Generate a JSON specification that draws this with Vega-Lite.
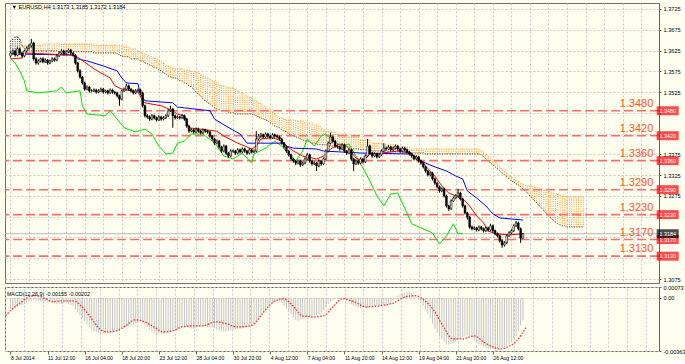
{
"$schema":"https://vega.github.io/schema/vega-lite/v6.json",
"background":"#fffff0",
"padding":{"left":2,"top":2,"right":0,"bottom":0},
"spacing":0,
"config":{"view":{"stroke":"#6e6e6e","fill":"#fffff0"},"axis":{"labelFont":"Liberation Sans","labelFontSize":5.6,"labelColor":"#000","labelOverlap":false,"gridColor":"#c8c8c8","gridDash":[2,2],"gridWidth":1,"tickColor":"#666","domainColor":"#666"},"text":{"font":"Liberation Sans"}},
"datasets":{
"bars":[
{"i":0,"o":1.3612,"h":1.3623,"l":1.3608,"c":1.3619,"m":-0.00075},
{"i":1,"o":1.3619,"h":1.3628,"l":1.3615,"c":1.3624,"m":-0.0008},
{"i":2,"o":1.3624,"h":1.3627,"l":1.3610,"c":1.3614,"m":-0.00072},
{"i":3,"o":1.3614,"h":1.3633,"l":1.3611,"c":1.3629,"m":-0.00062},
{"i":4,"o":1.3629,"h":1.3632,"l":1.3615,"c":1.3619,"m":-0.00055},
{"i":5,"o":1.3619,"h":1.3622,"l":1.3608,"c":1.3612,"m":-0.0005},
{"i":6,"o":1.3612,"h":1.3627,"l":1.3609,"c":1.3624,"m":-0.00045},
{"i":7,"o":1.3624,"h":1.3635,"l":1.3620,"c":1.3631,"m":-0.00035},
{"i":8,"o":1.3631,"h":1.3641,"l":1.3627,"c":1.3636,"m":-0.00025},
{"i":9,"o":1.3636,"h":1.3653,"l":1.3632,"c":1.3643,"m":-0.0002},
{"i":10,"o":1.3643,"h":1.3646,"l":1.3601,"c":1.3605,"m":-0.00018},
{"i":11,"o":1.3605,"h":1.3609,"l":1.3591,"c":1.3595,"m":-0.0002},
{"i":12,"o":1.3595,"h":1.3604,"l":1.3591,"c":1.3600,"m":-0.00022},
{"i":13,"o":1.3600,"h":1.3608,"l":1.3596,"c":1.3605,"m":-0.00024},
{"i":14,"o":1.3605,"h":1.3609,"l":1.3594,"c":1.3598,"m":-0.00025},
{"i":15,"o":1.3598,"h":1.3606,"l":1.3595,"c":1.3602,"m":-0.00027},
{"i":16,"o":1.3602,"h":1.3605,"l":1.3591,"c":1.3595,"m":-0.00028},
{"i":17,"o":1.3595,"h":1.3603,"l":1.3592,"c":1.3600,"m":-0.0003},
{"i":18,"o":1.3600,"h":1.3609,"l":1.3597,"c":1.3605,"m":-0.00035},
{"i":19,"o":1.3605,"h":1.3608,"l":1.3598,"c":1.3602,"m":-0.0004},
{"i":20,"o":1.3602,"h":1.3616,"l":1.3599,"c":1.3612,"m":-0.00042},
{"i":21,"o":1.3612,"h":1.3623,"l":1.3609,"c":1.3619,"m":-0.00045},
{"i":22,"o":1.3619,"h":1.3628,"l":1.3616,"c":1.3624,"m":-0.00042},
{"i":23,"o":1.3624,"h":1.3627,"l":1.3613,"c":1.3617,"m":-0.0004},
{"i":24,"o":1.3617,"h":1.3626,"l":1.3614,"c":1.3622,"m":-0.00038},
{"i":25,"o":1.3622,"h":1.3630,"l":1.3618,"c":1.3626,"m":-0.00042},
{"i":26,"o":1.3626,"h":1.3629,"l":1.3615,"c":1.3619,"m":-0.00048},
{"i":27,"o":1.3619,"h":1.3622,"l":1.3610,"c":1.3614,"m":-0.00055},
{"i":28,"o":1.3614,"h":1.3617,"l":1.3591,"c":1.3595,"m":-0.0008},
{"i":29,"o":1.3595,"h":1.3598,"l":1.3572,"c":1.3576,"m":-0.001},
{"i":30,"o":1.3576,"h":1.3580,"l":1.3557,"c":1.3561,"m":-0.0012},
{"i":31,"o":1.3561,"h":1.3564,"l":1.3543,"c":1.3547,"m":-0.0014},
{"i":32,"o":1.3547,"h":1.3550,"l":1.3528,"c":1.3532,"m":-0.0016},
{"i":33,"o":1.3532,"h":1.3541,"l":1.3529,"c":1.3537,"m":-0.0018},
{"i":34,"o":1.3537,"h":1.3540,"l":1.3524,"c":1.3528,"m":-0.002},
{"i":35,"o":1.3528,"h":1.3532,"l":1.3524,"c":1.3528,"m":-0.00215},
{"i":36,"o":1.3528,"h":1.3534,"l":1.3525,"c":1.3530,"m":-0.00225},
{"i":37,"o":1.3530,"h":1.3533,"l":1.3521,"c":1.3525,"m":-0.00235},
{"i":38,"o":1.3525,"h":1.3532,"l":1.3522,"c":1.3528,"m":-0.0024},
{"i":39,"o":1.3528,"h":1.3536,"l":1.3525,"c":1.3532,"m":-0.00245},
{"i":40,"o":1.3532,"h":1.3535,"l":1.3521,"c":1.3525,"m":-0.00245},
{"i":41,"o":1.3525,"h":1.3531,"l":1.3522,"c":1.3528,"m":-0.00242},
{"i":42,"o":1.3528,"h":1.3531,"l":1.3519,"c":1.3523,"m":-0.0024},
{"i":43,"o":1.3523,"h":1.3534,"l":1.3520,"c":1.3530,"m":-0.00238},
{"i":44,"o":1.3530,"h":1.3533,"l":1.3521,"c":1.3525,"m":-0.00232},
{"i":45,"o":1.3525,"h":1.3528,"l":1.3519,"c":1.3523,"m":-0.00228},
{"i":46,"o":1.3523,"h":1.3526,"l":1.3512,"c":1.3516,"m":-0.00222},
{"i":47,"o":1.3516,"h":1.3519,"l":1.3492,"c":1.3508,"m":-0.00215},
{"i":48,"o":1.3508,"h":1.3531,"l":1.3505,"c":1.3528,"m":-0.0021},
{"i":49,"o":1.3528,"h":1.3536,"l":1.3525,"c":1.3532,"m":-0.00205},
{"i":50,"o":1.3532,"h":1.3545,"l":1.3529,"c":1.3540,"m":-0.002},
{"i":51,"o":1.3540,"h":1.3543,"l":1.3528,"c":1.3532,"m":-0.00195},
{"i":52,"o":1.3532,"h":1.3535,"l":1.3524,"c":1.3528,"m":-0.0019},
{"i":53,"o":1.3528,"h":1.3531,"l":1.3519,"c":1.3523,"m":-0.00185},
{"i":54,"o":1.3523,"h":1.3532,"l":1.3520,"c":1.3528,"m":-0.00175},
{"i":55,"o":1.3528,"h":1.3534,"l":1.3525,"c":1.3530,"m":-0.00165},
{"i":56,"o":1.3530,"h":1.3533,"l":1.3519,"c":1.3523,"m":-0.0016},
{"i":57,"o":1.3523,"h":1.3526,"l":1.3488,"c":1.3492,"m":-0.0017},
{"i":58,"o":1.3492,"h":1.3495,"l":1.3464,"c":1.3468,"m":-0.00185},
{"i":59,"o":1.3468,"h":1.3472,"l":1.3461,"c":1.3465,"m":-0.002},
{"i":60,"o":1.3465,"h":1.3469,"l":1.3456,"c":1.3460,"m":-0.00215},
{"i":61,"o":1.3460,"h":1.3472,"l":1.3457,"c":1.3468,"m":-0.00228},
{"i":62,"o":1.3468,"h":1.3471,"l":1.3459,"c":1.3463,"m":-0.00238},
{"i":63,"o":1.3463,"h":1.3466,"l":1.3454,"c":1.3458,"m":-0.00245},
{"i":64,"o":1.3458,"h":1.3469,"l":1.3455,"c":1.3465,"m":-0.00248},
{"i":65,"o":1.3465,"h":1.3468,"l":1.3456,"c":1.3460,"m":-0.00248},
{"i":66,"o":1.3460,"h":1.3467,"l":1.3457,"c":1.3463,"m":-0.00246},
{"i":67,"o":1.3463,"h":1.3472,"l":1.3460,"c":1.3468,"m":-0.00243},
{"i":68,"o":1.3468,"h":1.3484,"l":1.3465,"c":1.3480,"m":-0.00238},
{"i":69,"o":1.3480,"h":1.3492,"l":1.3477,"c":1.3484,"m":-0.00232},
{"i":70,"o":1.3484,"h":1.3487,"l":1.3439,"c":1.3468,"m":-0.00225},
{"i":71,"o":1.3468,"h":1.3471,"l":1.3459,"c":1.3463,"m":-0.00218},
{"i":72,"o":1.3463,"h":1.3469,"l":1.3460,"c":1.3465,"m":-0.00212},
{"i":73,"o":1.3465,"h":1.3468,"l":1.3459,"c":1.3463,"m":-0.00205},
{"i":74,"o":1.3463,"h":1.3472,"l":1.3460,"c":1.3468,"m":-0.002},
{"i":75,"o":1.3468,"h":1.3471,"l":1.3456,"c":1.3460,"m":-0.00198},
{"i":76,"o":1.3460,"h":1.3463,"l":1.3439,"c":1.3443,"m":-0.002},
{"i":77,"o":1.3443,"h":1.3446,"l":1.3427,"c":1.3431,"m":-0.00205},
{"i":78,"o":1.3431,"h":1.3438,"l":1.3428,"c":1.3434,"m":-0.0021},
{"i":79,"o":1.3434,"h":1.3437,"l":1.3425,"c":1.3429,"m":-0.00212},
{"i":80,"o":1.3429,"h":1.3440,"l":1.3426,"c":1.3436,"m":-0.00208},
{"i":81,"o":1.3436,"h":1.3439,"l":1.3427,"c":1.3431,"m":-0.002},
{"i":82,"o":1.3431,"h":1.3434,"l":1.3423,"c":1.3427,"m":-0.00195},
{"i":83,"o":1.3427,"h":1.3438,"l":1.3424,"c":1.3434,"m":-0.00192},
{"i":84,"o":1.3434,"h":1.3437,"l":1.3427,"c":1.3431,"m":-0.00195},
{"i":85,"o":1.3431,"h":1.3434,"l":1.3425,"c":1.3429,"m":-0.00198},
{"i":86,"o":1.3429,"h":1.3432,"l":1.3415,"c":1.3419,"m":-0.002},
{"i":87,"o":1.3419,"h":1.3422,"l":1.3408,"c":1.3412,"m":-0.00205},
{"i":88,"o":1.3412,"h":1.3415,"l":1.3398,"c":1.3402,"m":-0.00212},
{"i":89,"o":1.3402,"h":1.3411,"l":1.3399,"c":1.3407,"m":-0.00218},
{"i":90,"o":1.3407,"h":1.3410,"l":1.3389,"c":1.3393,"m":-0.00225},
{"i":91,"o":1.3393,"h":1.3396,"l":1.3379,"c":1.3383,"m":-0.0023},
{"i":92,"o":1.3383,"h":1.3399,"l":1.3380,"c":1.3395,"m":-0.00232},
{"i":93,"o":1.3395,"h":1.3398,"l":1.3374,"c":1.3378,"m":-0.0023},
{"i":94,"o":1.3378,"h":1.3381,"l":1.3366,"c":1.3371,"m":-0.00226},
{"i":95,"o":1.3371,"h":1.3387,"l":1.3368,"c":1.3383,"m":-0.00222},
{"i":96,"o":1.3383,"h":1.3387,"l":1.3379,"c":1.3383,"m":-0.0022},
{"i":97,"o":1.3383,"h":1.3386,"l":1.3374,"c":1.3378,"m":-0.00218},
{"i":98,"o":1.3378,"h":1.3390,"l":1.3375,"c":1.3386,"m":-0.00215},
{"i":99,"o":1.3386,"h":1.3389,"l":1.3377,"c":1.3381,"m":-0.00212},
{"i":100,"o":1.3381,"h":1.3392,"l":1.3378,"c":1.3388,"m":-0.00208},
{"i":101,"o":1.3388,"h":1.3391,"l":1.3379,"c":1.3383,"m":-0.00205},
{"i":102,"o":1.3383,"h":1.3386,"l":1.3374,"c":1.3378,"m":-0.002},
{"i":103,"o":1.3378,"h":1.3390,"l":1.3375,"c":1.3386,"m":-0.00195},
{"i":104,"o":1.3386,"h":1.3389,"l":1.3377,"c":1.3381,"m":-0.0019},
{"i":105,"o":1.3381,"h":1.3387,"l":1.3378,"c":1.3383,"m":-0.0018},
{"i":106,"o":1.3383,"h":1.3431,"l":1.3380,"c":1.3412,"m":-0.0016},
{"i":107,"o":1.3412,"h":1.3424,"l":1.3408,"c":1.3419,"m":-0.0014},
{"i":108,"o":1.3419,"h":1.3427,"l":1.3415,"c":1.3422,"m":-0.0012},
{"i":109,"o":1.3422,"h":1.3425,"l":1.3413,"c":1.3417,"m":-0.001},
{"i":110,"o":1.3417,"h":1.3428,"l":1.3414,"c":1.3424,"m":-0.0008},
{"i":111,"o":1.3424,"h":1.3427,"l":1.3415,"c":1.3419,"m":-0.00055},
{"i":112,"o":1.3419,"h":1.3422,"l":1.3411,"c":1.3415,"m":-0.0004},
{"i":113,"o":1.3415,"h":1.3426,"l":1.3412,"c":1.3422,"m":-0.0003},
{"i":114,"o":1.3422,"h":1.3425,"l":1.3415,"c":1.3419,"m":-0.00025},
{"i":115,"o":1.3419,"h":1.3423,"l":1.3413,"c":1.3417,"m":-0.00022},
{"i":116,"o":1.3417,"h":1.3420,"l":1.3408,"c":1.3412,"m":-0.00025},
{"i":117,"o":1.3412,"h":1.3415,"l":1.3398,"c":1.3402,"m":-0.00035},
{"i":118,"o":1.3402,"h":1.3405,"l":1.3389,"c":1.3393,"m":-0.00055},
{"i":119,"o":1.3393,"h":1.3396,"l":1.3379,"c":1.3383,"m":-0.00075},
{"i":120,"o":1.3383,"h":1.3386,"l":1.3370,"c":1.3374,"m":-0.00095},
{"i":121,"o":1.3374,"h":1.3377,"l":1.3360,"c":1.3364,"m":-0.00115},
{"i":122,"o":1.3364,"h":1.3367,"l":1.3355,"c":1.3359,"m":-0.00135},
{"i":123,"o":1.3359,"h":1.3362,"l":1.3349,"c":1.3354,"m":-0.0015},
{"i":124,"o":1.3354,"h":1.3363,"l":1.3351,"c":1.3359,"m":-0.00158},
{"i":125,"o":1.3359,"h":1.3362,"l":1.3345,"c":1.3350,"m":-0.0015},
{"i":126,"o":1.3350,"h":1.3358,"l":1.3347,"c":1.3354,"m":-0.00145},
{"i":127,"o":1.3354,"h":1.3368,"l":1.3351,"c":1.3364,"m":-0.0014},
{"i":128,"o":1.3364,"h":1.3378,"l":1.3361,"c":1.3374,"m":-0.00135},
{"i":129,"o":1.3374,"h":1.3377,"l":1.3355,"c":1.3359,"m":-0.0013},
{"i":130,"o":1.3359,"h":1.3362,"l":1.3348,"c":1.3352,"m":-0.00125},
{"i":131,"o":1.3352,"h":1.3358,"l":1.3349,"c":1.3354,"m":-0.00122},
{"i":132,"o":1.3354,"h":1.3357,"l":1.3335,"c":1.3347,"m":-0.0012},
{"i":133,"o":1.3347,"h":1.3363,"l":1.3344,"c":1.3359,"m":-0.00115},
{"i":134,"o":1.3359,"h":1.3362,"l":1.3348,"c":1.3352,"m":-0.001},
{"i":135,"o":1.3352,"h":1.3368,"l":1.3349,"c":1.3364,"m":-0.00085},
{"i":136,"o":1.3364,"h":1.3387,"l":1.3361,"c":1.3383,"m":-0.00065},
{"i":137,"o":1.3383,"h":1.3406,"l":1.3380,"c":1.3402,"m":-0.00045},
{"i":138,"o":1.3402,"h":1.3427,"l":1.3399,"c":1.3417,"m":-0.0003},
{"i":139,"o":1.3417,"h":1.3420,"l":1.3403,"c":1.3407,"m":-0.0002},
{"i":140,"o":1.3407,"h":1.3410,"l":1.3391,"c":1.3395,"m":-0.0001},
{"i":141,"o":1.3395,"h":1.3399,"l":1.3389,"c":1.3393,"m":-0.00005},
{"i":142,"o":1.3393,"h":1.3396,"l":1.3384,"c":1.3388,"m":0},
{"i":143,"o":1.3388,"h":1.3402,"l":1.3385,"c":1.3398,"m":-0.00005},
{"i":144,"o":1.3398,"h":1.3401,"l":1.3379,"c":1.3383,"m":-0.0001},
{"i":145,"o":1.3383,"h":1.3386,"l":1.3374,"c":1.3378,"m":-0.0002},
{"i":146,"o":1.3378,"h":1.3390,"l":1.3375,"c":1.3386,"m":-0.0003},
{"i":147,"o":1.3386,"h":1.3389,"l":1.3360,"c":1.3364,"m":-0.00045},
{"i":148,"o":1.3364,"h":1.3367,"l":1.3335,"c":1.3352,"m":-0.00055},
{"i":149,"o":1.3352,"h":1.3363,"l":1.3349,"c":1.3359,"m":-0.00062},
{"i":150,"o":1.3359,"h":1.3362,"l":1.3350,"c":1.3354,"m":-0.00068},
{"i":151,"o":1.3354,"h":1.3368,"l":1.3351,"c":1.3364,"m":-0.00072},
{"i":152,"o":1.3364,"h":1.3367,"l":1.3353,"c":1.3357,"m":-0.00072},
{"i":153,"o":1.3357,"h":1.3375,"l":1.3354,"c":1.3371,"m":-0.0007},
{"i":154,"o":1.3371,"h":1.3412,"l":1.3368,"c":1.3395,"m":-0.00065},
{"i":155,"o":1.3395,"h":1.3398,"l":1.3374,"c":1.3378,"m":-0.0006},
{"i":156,"o":1.3378,"h":1.3381,"l":1.3367,"c":1.3371,"m":-0.00058},
{"i":157,"o":1.3371,"h":1.3380,"l":1.3368,"c":1.3376,"m":-0.00055},
{"i":158,"o":1.3376,"h":1.3379,"l":1.3365,"c":1.3369,"m":-0.00055},
{"i":159,"o":1.3369,"h":1.3378,"l":1.3366,"c":1.3374,"m":-0.00052},
{"i":160,"o":1.3374,"h":1.3387,"l":1.3371,"c":1.3383,"m":-0.0005},
{"i":161,"o":1.3383,"h":1.3402,"l":1.3380,"c":1.3390,"m":-0.00048},
{"i":162,"o":1.3390,"h":1.3394,"l":1.3384,"c":1.3388,"m":-0.00045},
{"i":163,"o":1.3388,"h":1.3397,"l":1.3385,"c":1.3393,"m":-0.0004},
{"i":164,"o":1.3393,"h":1.3396,"l":1.3382,"c":1.3386,"m":-0.00035},
{"i":165,"o":1.3386,"h":1.3394,"l":1.3383,"c":1.3390,"m":-0.0002},
{"i":166,"o":1.3390,"h":1.3399,"l":1.3387,"c":1.3395,"m":-0.00005},
{"i":167,"o":1.3395,"h":1.3398,"l":1.3384,"c":1.3388,"m":0.0001},
{"i":168,"o":1.3388,"h":1.3391,"l":1.3379,"c":1.3383,"m":0.0002},
{"i":169,"o":1.3383,"h":1.3394,"l":1.3380,"c":1.3390,"m":0.00028},
{"i":170,"o":1.3390,"h":1.3393,"l":1.3382,"c":1.3386,"m":0.00035},
{"i":171,"o":1.3386,"h":1.3389,"l":1.3377,"c":1.3381,"m":0.00038},
{"i":172,"o":1.3381,"h":1.3384,"l":1.3372,"c":1.3376,"m":0.00035},
{"i":173,"o":1.3376,"h":1.3379,"l":1.3367,"c":1.3371,"m":0.00028},
{"i":174,"o":1.3371,"h":1.3374,"l":1.3360,"c":1.3364,"m":0.00015},
{"i":175,"o":1.3364,"h":1.3373,"l":1.3361,"c":1.3369,"m":0},
{"i":176,"o":1.3369,"h":1.3372,"l":1.3355,"c":1.3359,"m":-0.00015},
{"i":177,"o":1.3359,"h":1.3362,"l":1.3350,"c":1.3354,"m":-0.00035},
{"i":178,"o":1.3354,"h":1.3357,"l":1.3341,"c":1.3345,"m":-0.00055},
{"i":179,"o":1.3345,"h":1.3348,"l":1.3331,"c":1.3335,"m":-0.0008},
{"i":180,"o":1.3335,"h":1.3338,"l":1.3322,"c":1.3326,"m":-0.0011},
{"i":181,"o":1.3326,"h":1.3334,"l":1.3322,"c":1.3330,"m":-0.0014},
{"i":182,"o":1.3330,"h":1.3333,"l":1.3312,"c":1.3316,"m":-0.00175},
{"i":183,"o":1.3316,"h":1.3319,"l":1.3302,"c":1.3306,"m":-0.0021},
{"i":184,"o":1.3306,"h":1.3309,"l":1.3293,"c":1.3297,"m":-0.0024},
{"i":185,"o":1.3297,"h":1.3300,"l":1.3283,"c":1.3287,"m":-0.00265},
{"i":186,"o":1.3287,"h":1.3296,"l":1.3284,"c":1.3292,"m":-0.00285},
{"i":187,"o":1.3292,"h":1.3295,"l":1.3271,"c":1.3275,"m":-0.003},
{"i":188,"o":1.3275,"h":1.3278,"l":1.3247,"c":1.3251,"m":-0.00312},
{"i":189,"o":1.3251,"h":1.3254,"l":1.3239,"c":1.3244,"m":-0.00318},
{"i":190,"o":1.3244,"h":1.3267,"l":1.3241,"c":1.3263,"m":-0.00315},
{"i":191,"o":1.3263,"h":1.3274,"l":1.3260,"c":1.3270,"m":-0.0031},
{"i":192,"o":1.3270,"h":1.3279,"l":1.3267,"c":1.3275,"m":-0.003},
{"i":193,"o":1.3275,"h":1.3292,"l":1.3272,"c":1.3282,"m":-0.0029},
{"i":194,"o":1.3282,"h":1.3285,"l":1.3264,"c":1.3268,"m":-0.0028},
{"i":195,"o":1.3268,"h":1.3271,"l":1.3247,"c":1.3251,"m":-0.0027},
{"i":196,"o":1.3251,"h":1.3254,"l":1.3230,"c":1.3234,"m":-0.00262},
{"i":197,"o":1.3234,"h":1.3237,"l":1.3218,"c":1.3224,"m":-0.00258},
{"i":198,"o":1.3224,"h":1.3227,"l":1.3196,"c":1.3200,"m":-0.00262},
{"i":199,"o":1.3200,"h":1.3204,"l":1.3192,"c":1.3196,"m":-0.00275},
{"i":200,"o":1.3196,"h":1.3202,"l":1.3193,"c":1.3198,"m":-0.0029},
{"i":201,"o":1.3198,"h":1.3201,"l":1.3189,"c":1.3193,"m":-0.00305},
{"i":202,"o":1.3193,"h":1.3204,"l":1.3190,"c":1.3200,"m":-0.00318},
{"i":203,"o":1.3200,"h":1.3203,"l":1.3192,"c":1.3196,"m":-0.00328},
{"i":204,"o":1.3196,"h":1.3199,"l":1.3187,"c":1.3191,"m":-0.00336},
{"i":205,"o":1.3191,"h":1.3202,"l":1.3188,"c":1.3198,"m":-0.00342},
{"i":206,"o":1.3198,"h":1.3201,"l":1.3189,"c":1.3193,"m":-0.00346},
{"i":207,"o":1.3193,"h":1.3208,"l":1.3190,"c":1.3203,"m":-0.00348},
{"i":208,"o":1.3203,"h":1.3206,"l":1.3187,"c":1.3191,"m":-0.0035},
{"i":209,"o":1.3191,"h":1.3194,"l":1.3180,"c":1.3184,"m":-0.0035},
{"i":210,"o":1.3184,"h":1.3187,"l":1.3175,"c":1.3179,"m":-0.00348},
{"i":211,"o":1.3179,"h":1.3182,"l":1.3163,"c":1.3167,"m":-0.00345},
{"i":212,"o":1.3167,"h":1.3170,"l":1.3150,"c":1.3157,"m":-0.0034},
{"i":213,"o":1.3157,"h":1.3166,"l":1.3153,"c":1.3162,"m":-0.00335},
{"i":214,"o":1.3162,"h":1.3183,"l":1.3159,"c":1.3179,"m":-0.00328},
{"i":215,"o":1.3179,"h":1.3190,"l":1.3176,"c":1.3186,"m":-0.0032},
{"i":216,"o":1.3186,"h":1.3195,"l":1.3183,"c":1.3191,"m":-0.00305},
{"i":217,"o":1.3191,"h":1.3207,"l":1.3188,"c":1.3203,"m":-0.00285},
{"i":218,"o":1.3203,"h":1.3215,"l":1.3200,"c":1.3210,"m":-0.00262},
{"i":219,"o":1.3210,"h":1.3213,"l":1.3192,"c":1.3196,"m":-0.0023},
{"i":220,"o":1.3196,"h":1.3199,"l":1.3162,"c":1.3173,"m":-0.0019},
{"i":221,"o":1.3173,"h":1.3185,"l":1.3172,"c":1.3184,"m":-0.00155}
],
"cloud":[
{"i":0,"a":1.3648,"b":1.3624},{"i":1,"a":1.3653,"b":1.3626},{"i":2,"a":1.3658,"b":1.3626},{"i":3,"a":1.3658,"b":1.3629},{"i":4,"a":1.3653,"b":1.3631},{"i":5,"a":1.3638,"b":1.3634},{"i":6,"a":1.3629,"b":1.3636},{"i":7,"a":1.3624,"b":1.3638},
{"i":8,"a":1.3624,"b":1.3638},{"i":9,"a":1.3624,"b":1.3638},{"i":10,"a":1.3624,"b":1.3638},{"i":11,"a":1.3624,"b":1.3638},{"i":12,"a":1.3624,"b":1.3638},{"i":13,"a":1.3624,"b":1.3638},{"i":14,"a":1.3624,"b":1.3638},{"i":15,"a":1.3624,"b":1.3641},{"i":16,"a":1.3624,"b":1.3641},{"i":17,"a":1.3624,"b":1.3641},{"i":18,"a":1.3624,"b":1.3641},{"i":19,"a":1.3624,"b":1.3641},{"i":20,"a":1.3624,"b":1.3641},
{"i":21,"a":1.3622,"b":1.3641},{"i":22,"a":1.3622,"b":1.3641},{"i":23,"a":1.3622,"b":1.3641},{"i":24,"a":1.3622,"b":1.3641},{"i":25,"a":1.3622,"b":1.3641},{"i":26,"a":1.3622,"b":1.3641},{"i":27,"a":1.3622,"b":1.3641},{"i":28,"a":1.3622,"b":1.3641},{"i":29,"a":1.3622,"b":1.3641},{"i":30,"a":1.3622,"b":1.3641},{"i":31,"a":1.3622,"b":1.3641},{"i":32,"a":1.3622,"b":1.3641},{"i":33,"a":1.3622,"b":1.3641},{"i":34,"a":1.3622,"b":1.3641},{"i":35,"a":1.3622,"b":1.3641},
{"i":36,"a":1.3619,"b":1.3638},{"i":37,"a":1.3619,"b":1.3638},{"i":38,"a":1.3619,"b":1.3638},{"i":39,"a":1.3619,"b":1.3638},{"i":40,"a":1.3619,"b":1.3638},{"i":41,"a":1.3619,"b":1.3638},{"i":42,"a":1.3619,"b":1.3638},{"i":43,"a":1.3619,"b":1.3638},{"i":44,"a":1.3619,"b":1.3638},{"i":45,"a":1.3619,"b":1.3638},
{"i":46,"a":1.3617,"b":1.3638},{"i":47,"a":1.3614,"b":1.3638},{"i":48,"a":1.3612,"b":1.3636},{"i":49,"a":1.3610,"b":1.3636},{"i":50,"a":1.3610,"b":1.3636},{"i":51,"a":1.3610,"b":1.3631},{"i":52,"a":1.3605,"b":1.3631},{"i":53,"a":1.3605,"b":1.3629},{"i":54,"a":1.3605,"b":1.3629},{"i":55,"a":1.3605,"b":1.3624},
{"i":56,"a":1.3600,"b":1.3622},{"i":57,"a":1.3600,"b":1.3619},{"i":58,"a":1.3595,"b":1.3617},{"i":59,"a":1.3593,"b":1.3614},{"i":60,"a":1.3590,"b":1.3612},{"i":61,"a":1.3588,"b":1.3610},{"i":62,"a":1.3583,"b":1.3607},{"i":63,"a":1.3583,"b":1.3605},{"i":64,"a":1.3578,"b":1.3600},{"i":65,"a":1.3576,"b":1.3598},
{"i":66,"a":1.3571,"b":1.3595},{"i":67,"a":1.3569,"b":1.3590},{"i":68,"a":1.3564,"b":1.3588},{"i":69,"a":1.3561,"b":1.3586},{"i":70,"a":1.3559,"b":1.3583},{"i":71,"a":1.3559,"b":1.3581},{"i":72,"a":1.3557,"b":1.3581},{"i":73,"a":1.3552,"b":1.3581},{"i":74,"a":1.3552,"b":1.3581},{"i":75,"a":1.3547,"b":1.3578},
{"i":76,"a":1.3545,"b":1.3578},{"i":77,"a":1.3540,"b":1.3578},{"i":78,"a":1.3537,"b":1.3576},{"i":79,"a":1.3532,"b":1.3574},{"i":80,"a":1.3525,"b":1.3574},{"i":81,"a":1.3520,"b":1.3571},{"i":82,"a":1.3516,"b":1.3569},{"i":83,"a":1.3508,"b":1.3564},{"i":84,"a":1.3504,"b":1.3561},{"i":85,"a":1.3499,"b":1.3559},
{"i":86,"a":1.3497,"b":1.3557},{"i":87,"a":1.3492,"b":1.3552},{"i":88,"a":1.3487,"b":1.3550},{"i":89,"a":1.3484,"b":1.3547},{"i":90,"a":1.3482,"b":1.3542},{"i":91,"a":1.3480,"b":1.3540},{"i":92,"a":1.3480,"b":1.3540},{"i":93,"a":1.3480,"b":1.3537},{"i":94,"a":1.3475,"b":1.3537},{"i":95,"a":1.3475,"b":1.3535},
{"i":96,"a":1.3475,"b":1.3535},{"i":97,"a":1.3472,"b":1.3532},{"i":98,"a":1.3472,"b":1.3528},{"i":99,"a":1.3472,"b":1.3525},{"i":100,"a":1.3472,"b":1.3523},{"i":101,"a":1.3472,"b":1.3520},{"i":102,"a":1.3472,"b":1.3516},{"i":103,"a":1.3472,"b":1.3513},{"i":104,"a":1.3472,"b":1.3511},{"i":105,"a":1.3470,"b":1.3506},
{"i":106,"a":1.3468,"b":1.3504},{"i":107,"a":1.3465,"b":1.3499},{"i":108,"a":1.3463,"b":1.3497},{"i":109,"a":1.3460,"b":1.3492},{"i":110,"a":1.3458,"b":1.3489},{"i":111,"a":1.3456,"b":1.3487},{"i":112,"a":1.3451,"b":1.3482},{"i":113,"a":1.3448,"b":1.3477},{"i":114,"a":1.3443,"b":1.3472},{"i":115,"a":1.3441,"b":1.3468},
{"i":116,"a":1.3439,"b":1.3465},{"i":117,"a":1.3434,"b":1.3463},{"i":118,"a":1.3431,"b":1.3460},{"i":119,"a":1.3429,"b":1.3458},{"i":120,"a":1.3424,"b":1.3458},{"i":121,"a":1.3422,"b":1.3458},{"i":122,"a":1.3419,"b":1.3458},{"i":123,"a":1.3417,"b":1.3456},{"i":124,"a":1.3415,"b":1.3456},{"i":125,"a":1.3412,"b":1.3456},
{"i":126,"a":1.3410,"b":1.3456},{"i":127,"a":1.3407,"b":1.3451},{"i":128,"a":1.3407,"b":1.3451},{"i":129,"a":1.3405,"b":1.3451},{"i":130,"a":1.3402,"b":1.3451},{"i":131,"a":1.3402,"b":1.3446},{"i":132,"a":1.3400,"b":1.3446},{"i":133,"a":1.3398,"b":1.3446},{"i":134,"a":1.3398,"b":1.3441},{"i":135,"a":1.3398,"b":1.3436},
{"i":136,"a":1.3398,"b":1.3431},{"i":137,"a":1.3395,"b":1.3429},{"i":138,"a":1.3395,"b":1.3429},{"i":139,"a":1.3395,"b":1.3429},{"i":140,"a":1.3395,"b":1.3429},{"i":141,"a":1.3395,"b":1.3424},{"i":142,"a":1.3393,"b":1.3424},{"i":143,"a":1.3393,"b":1.3424},{"i":144,"a":1.3393,"b":1.3424},{"i":145,"a":1.3393,"b":1.3424},
{"i":146,"a":1.3393,"b":1.3417},{"i":147,"a":1.3388,"b":1.3417},{"i":148,"a":1.3388,"b":1.3417},{"i":149,"a":1.3388,"b":1.3417},{"i":150,"a":1.3388,"b":1.3417},{"i":151,"a":1.3386,"b":1.3410},{"i":152,"a":1.3386,"b":1.3410},{"i":153,"a":1.3386,"b":1.3410},{"i":154,"a":1.3386,"b":1.3410},{"i":155,"a":1.3386,"b":1.3410},
{"i":156,"a":1.3383,"b":1.3402},{"i":157,"a":1.3383,"b":1.3402},{"i":158,"a":1.3383,"b":1.3402},{"i":159,"a":1.3383,"b":1.3402},{"i":160,"a":1.3383,"b":1.3402},{"i":161,"a":1.3383,"b":1.3398},{"i":162,"a":1.3383,"b":1.3398},{"i":163,"a":1.3381,"b":1.3398},{"i":164,"a":1.3381,"b":1.3398},{"i":165,"a":1.3381,"b":1.3398},
{"i":166,"a":1.3381,"b":1.3393},{"i":167,"a":1.3381,"b":1.3393},{"i":168,"a":1.3381,"b":1.3393},{"i":169,"a":1.3381,"b":1.3393},{"i":170,"a":1.3381,"b":1.3393},{"i":171,"a":1.3381,"b":1.3393},{"i":172,"a":1.3381,"b":1.3393},{"i":173,"a":1.3378,"b":1.3388},{"i":174,"a":1.3378,"b":1.3388},{"i":175,"a":1.3378,"b":1.3388},
{"i":176,"a":1.3378,"b":1.3388},{"i":177,"a":1.3378,"b":1.3388},{"i":178,"a":1.3378,"b":1.3388},{"i":179,"a":1.3376,"b":1.3388},{"i":180,"a":1.3376,"b":1.3388},{"i":181,"a":1.3376,"b":1.3388},{"i":182,"a":1.3376,"b":1.3388},{"i":183,"a":1.3376,"b":1.3388},{"i":184,"a":1.3376,"b":1.3388},{"i":185,"a":1.3376,"b":1.3388},
{"i":186,"a":1.3376,"b":1.3388},{"i":187,"a":1.3376,"b":1.3388},{"i":188,"a":1.3376,"b":1.3388},{"i":189,"a":1.3376,"b":1.3388},{"i":190,"a":1.3376,"b":1.3388},{"i":191,"a":1.3376,"b":1.3388},{"i":192,"a":1.3376,"b":1.3388},{"i":193,"a":1.3376,"b":1.3388},{"i":194,"a":1.3376,"b":1.3388},{"i":195,"a":1.3376,"b":1.3388},
{"i":196,"a":1.3376,"b":1.3388},{"i":197,"a":1.3376,"b":1.3388},{"i":198,"a":1.3376,"b":1.3388},{"i":199,"a":1.3376,"b":1.3388},{"i":200,"a":1.3376,"b":1.3388},{"i":201,"a":1.3376,"b":1.3388},{"i":202,"a":1.3376,"b":1.3388},{"i":203,"a":1.3374,"b":1.3383},{"i":204,"a":1.3369,"b":1.3381},{"i":205,"a":1.3364,"b":1.3376},
{"i":206,"a":1.3359,"b":1.3371},{"i":207,"a":1.3354,"b":1.3366},{"i":208,"a":1.3350,"b":1.3361},{"i":209,"a":1.3345,"b":1.3357},{"i":210,"a":1.3340,"b":1.3352},{"i":211,"a":1.3335,"b":1.3345},{"i":212,"a":1.3330,"b":1.3340},{"i":213,"a":1.3326,"b":1.3335},{"i":214,"a":1.3321,"b":1.3330},{"i":215,"a":1.3316,"b":1.3323},
{"i":216,"a":1.3311,"b":1.3321},{"i":217,"a":1.3309,"b":1.3316},{"i":218,"a":1.3304,"b":1.3313},{"i":219,"a":1.3301,"b":1.3311},{"i":220,"a":1.3297,"b":1.3306},{"i":221,"a":1.3292,"b":1.3304},{"i":222,"a":1.3287,"b":1.3301},{"i":223,"a":1.3282,"b":1.3299},{"i":224,"a":1.3275,"b":1.3299},{"i":225,"a":1.3270,"b":1.3297},
{"i":226,"a":1.3263,"b":1.3297},{"i":227,"a":1.3258,"b":1.3294},{"i":228,"a":1.3251,"b":1.3292},{"i":229,"a":1.3246,"b":1.3292},{"i":230,"a":1.3239,"b":1.3289},{"i":231,"a":1.3234,"b":1.3287},{"i":232,"a":1.3227,"b":1.3287},{"i":233,"a":1.3222,"b":1.3285},{"i":234,"a":1.3217,"b":1.3282},{"i":235,"a":1.3212,"b":1.3280},
{"i":236,"a":1.3208,"b":1.3280},{"i":237,"a":1.3205,"b":1.3277},{"i":238,"a":1.3203,"b":1.3275},{"i":239,"a":1.3203,"b":1.3275},{"i":240,"a":1.3200,"b":1.3273},{"i":241,"a":1.3200,"b":1.3273},{"i":242,"a":1.3200,"b":1.3273},{"i":243,"a":1.3200,"b":1.3273},{"i":244,"a":1.3200,"b":1.3273},{"i":245,"a":1.3200,"b":1.3273},
{"i":246,"a":1.3200,"b":1.3273},{"i":247,"a":1.3200,"b":1.3273}
],
"ten":[{"i":0,"v":1.3605},{"i":5,"v":1.3607},{"i":6,"v":1.3619},{"i":27,"v":1.3614},{"i":28,"v":1.3612},{"i":30,"v":1.3605},{"i":33,"v":1.3593},{"i":36,"v":1.3581},{"i":39,"v":1.3571},{"i":43,"v":1.3559},{"i":45,"v":1.3540},{"i":48,"v":1.3532},{"i":55,"v":1.3525},{"i":57,"v":1.3504},{"i":58,"v":1.3499},{"i":65,"v":1.3492},{"i":70,"v":1.3480},{"i":72,"v":1.3472},{"i":75,"v":1.3468},{"i":77,"v":1.3439},{"i":89,"v":1.3431},{"i":92,"v":1.3419},{"i":98,"v":1.3402},{"i":104,"v":1.3388},{"i":106,"v":1.3395},{"i":108,"v":1.3412},{"i":113,"v":1.3415},{"i":117,"v":1.3407},{"i":119,"v":1.3395},{"i":122,"v":1.3383},{"i":126,"v":1.3371},{"i":132,"v":1.3364},{"i":135,"v":1.3371},{"i":138,"v":1.3388},{"i":142,"v":1.3400},{"i":145,"v":1.3395},{"i":149,"v":1.3366},{"i":152,"v":1.3359},{"i":155,"v":1.3376},{"i":160,"v":1.3378},{"i":167,"v":1.3383},{"i":172,"v":1.3378},{"i":176,"v":1.3366},{"i":179,"v":1.3347},{"i":183,"v":1.3323},{"i":186,"v":1.3299},{"i":189,"v":1.3282},{"i":192,"v":1.3275},{"i":196,"v":1.3263},{"i":198,"v":1.3251},{"i":201,"v":1.3227},{"i":204,"v":1.3210},{"i":206,"v":1.3191},{"i":209,"v":1.3184},{"i":215,"v":1.3181},{"i":221,"v":1.3184}],
"kij":[{"i":0,"v":1.3617},{"i":27,"v":1.3614},{"i":29,"v":1.3605},{"i":33,"v":1.3600},{"i":40,"v":1.3588},{"i":46,"v":1.3576},{"i":48,"v":1.3559},{"i":50,"v":1.3547},{"i":55,"v":1.3545},{"i":56,"v":1.3520},{"i":58,"v":1.3504},{"i":70,"v":1.3499},{"i":72,"v":1.3489},{"i":75,"v":1.3487},{"i":86,"v":1.3480},{"i":88,"v":1.3460},{"i":93,"v":1.3443},{"i":99,"v":1.3424},{"i":102,"v":1.3402},{"i":118,"v":1.3402},{"i":119,"v":1.3395},{"i":122,"v":1.3390},{"i":132,"v":1.3388},{"i":135,"v":1.3383},{"i":152,"v":1.3378},{"i":173,"v":1.3376},{"i":175,"v":1.3366},{"i":179,"v":1.3354},{"i":183,"v":1.3345},{"i":188,"v":1.3335},{"i":192,"v":1.3323},{"i":195,"v":1.3316},{"i":197,"v":1.3287},{"i":201,"v":1.3270},{"i":205,"v":1.3251},{"i":208,"v":1.3232},{"i":211,"v":1.3222},{"i":221,"v":1.3217}],
"chi":[{"i":0,"v":1.3607},{"i":2,"v":1.3595},{"i":4,"v":1.3576},{"i":6,"v":1.3552},{"i":7,"v":1.3528},{"i":12,"v":1.3523},{"i":20,"v":1.3528},{"i":22,"v":1.3537},{"i":24,"v":1.3523},{"i":30,"v":1.3528},{"i":31,"v":1.3492},{"i":33,"v":1.3472},{"i":41,"v":1.3468},{"i":43,"v":1.3480},{"i":46,"v":1.3460},{"i":49,"v":1.3439},{"i":54,"v":1.3429},{"i":58,"v":1.3436},{"i":61,"v":1.3424},{"i":64,"v":1.3395},{"i":67,"v":1.3376},{"i":70,"v":1.3378},{"i":72,"v":1.3402},{"i":75,"v":1.3407},{"i":78,"v":1.3424},{"i":83,"v":1.3424},{"i":87,"v":1.3407},{"i":89,"v":1.3395},{"i":92,"v":1.3371},{"i":96,"v":1.3364},{"i":100,"v":1.3378},{"i":104,"v":1.3354},{"i":105,"v":1.3376},{"i":110,"v":1.3390},{"i":114,"v":1.3407},{"i":117,"v":1.3395},{"i":120,"v":1.3376},{"i":123,"v":1.3359},{"i":126,"v":1.3383},{"i":128,"v":1.3412},{"i":131,"v":1.3395},{"i":134,"v":1.3419},{"i":136,"v":1.3424},{"i":139,"v":1.3407},{"i":143,"v":1.3395},{"i":146,"v":1.3400},{"i":149,"v":1.3371},{"i":152,"v":1.3342},{"i":155,"v":1.3311},{"i":158,"v":1.3275},{"i":161,"v":1.3251},{"i":164,"v":1.3280},{"i":167,"v":1.3282},{"i":170,"v":1.3246},{"i":173,"v":1.3208},{"i":177,"v":1.3198},{"i":182,"v":1.3186},{"i":185,"v":1.3159},{"i":188,"v":1.3179},{"i":191,"v":1.3208},{"i":193,"v":1.3184},{"i":195,"v":1.3184}],
"sig":[{"i":0,"v":-0.00123},{"i":3,"v":-0.00075},{"i":7,"v":-0.00027},{"i":10,"v":0.00007},{"i":13,"v":0.00014},{"i":17,"v":-0.00007},{"i":20,"v":-0.00027},{"i":24,"v":-0.00021},{"i":29,"v":-0.00021},{"i":32,"v":-0.00055},{"i":36,"v":-0.0013},{"i":40,"v":-0.00212},{"i":43,"v":-0.00233},{"i":47,"v":-0.00226},{"i":51,"v":-0.00192},{"i":55,"v":-0.00151},{"i":58,"v":-0.00158},{"i":63,"v":-0.00199},{"i":67,"v":-0.00233},{"i":71,"v":-0.00226},{"i":75,"v":-0.00199},{"i":80,"v":-0.00192},{"i":84,"v":-0.00192},{"i":89,"v":-0.00164},{"i":94,"v":-0.00178},{"i":98,"v":-0.00199},{"i":104,"v":-0.00192},{"i":106,"v":-0.00172},{"i":109,"v":-0.0011},{"i":114,"v":-0.00027},{"i":118,"v":-0.00007},{"i":122,"v":-0.00055},{"i":126,"v":-0.00123},{"i":131,"v":-0.0013},{"i":135,"v":-0.00123},{"i":139,"v":-0.00062},{"i":143,"v":-0.00007},{"i":148,"v":-0.00027},{"i":153,"v":-0.00062},{"i":159,"v":-0.00055},{"i":165,"v":-0.00034},{"i":170,"v":0.00007},{"i":174,"v":0.00014},{"i":177,"v":-0.00007},{"i":182,"v":-0.00089},{"i":186,"v":-0.00199},{"i":190,"v":-0.00281},{"i":194,"v":-0.00281},{"i":199,"v":-0.0026},{"i":203,"v":-0.00301},{"i":206,"v":-0.00329},{"i":210,"v":-0.00349},{"i":214,"v":-0.00329},{"i":217,"v":-0.00295},{"i":221,"v":-0.00202}],
"lv":[{"p":1.348,"t":"1.3480","k":"l"},{"p":1.342,"t":"1.3420","k":"l"},{"p":1.336,"t":"1.3360","k":"l"},{"p":1.329,"t":"1.3290","k":"l"},{"p":1.323,"t":"1.3230","k":"l"},{"p":1.317,"t":"1.3170","k":"l"},{"p":1.313,"t":"1.3130","k":"l"},{"p":1.3184,"t":"1.3184","k":"b"}]
},
"vconcat":[
{
"width":654,"height":280,
"resolve":{"axis":{"x":"independent","y":"independent"}},
"layer":[
{"data":{"name":"cloud"},"mark":{"type":"rule","strokeDash":[1.1,1.1],"strokeWidth":1.1},
"encoding":{"x":{"field":"i","type":"quantitative","title":null,"scale":{"domain":[-0.2,277.5],"nice":false,"zero":false},"axis":{"values":[0,8,16,24,32,40,48,56,64,72,80,88,96,104,112,120,128,136,144,152,160,168,176,184,192,200,208,216,224,232,240,248,256,264,272],"labels":false,"ticks":false,"domain":false,"grid":true,"minExtent":0,"maxExtent":0,"offset":0}},
"y":{"field":"a","type":"quantitative","title":null,"scale":{"domain":[1.30654,1.37394],"nice":false,"zero":false},"axis":{"orient":"right","values":[1.3075,1.3125,1.3175,1.3225,1.3275,1.3325,1.3375,1.3425,1.3475,1.3525,1.3575,1.3625,1.3675,1.3725],"labelExpr":"indexof([13475,13425,13225,13175,13125], round(datum.value*10000)) >= 0 ? '' : format(datum.value, '.4f')","labelOverlap":false,"labelBound":false,"grid":true,"tickSize":2,"labelPadding":2,"domain":true}},
"y2":{"field":"b"},
"color":{"condition":{"test":"datum.a > datum.b","value":"#555555"},"value":"#f7a048"}}},
{"data":{"name":"cloud"},"mark":{"type":"line","color":"#4a3b2c","strokeDash":[1,1.5],"strokeWidth":1},
"encoding":{"x":{"field":"i","type":"quantitative","title":null,"axis":null,"scale":{"domain":[-0.2,277.5],"nice":false,"zero":false}},"y":{"field":"a","type":"quantitative","title":null,"axis":null,"scale":{"domain":[1.30654,1.37394],"nice":false,"zero":false}}}},
{"data":{"name":"cloud"},"mark":{"type":"line","color":"#f59a3a","strokeDash":[1,1.5],"strokeWidth":1},
"encoding":{"x":{"field":"i","type":"quantitative","title":null,"axis":null,"scale":{"domain":[-0.2,277.5],"nice":false,"zero":false}},"y":{"field":"b","type":"quantitative","title":null,"axis":null,"scale":{"domain":[1.30654,1.37394],"nice":false,"zero":false}}}},
{"data":{"name":"lv"},"transform":[{"filter":"datum.k == 'l'"}],"mark":{"type":"rule","color":"#ff6b6b","strokeWidth":1.6,"strokeDash":[9,4]},
"encoding":{"y":{"field":"p","type":"quantitative","title":null,"axis":null,"scale":{"domain":[1.30654,1.37394],"nice":false,"zero":false}}}},
{"data":{"name":"lv"},"transform":[{"filter":"datum.k == 'b'"}],"mark":{"type":"rule","color":"#b8b8b8","strokeWidth":1},
"encoding":{"y":{"field":"p","type":"quantitative","title":null,"axis":null,"scale":{"domain":[1.30654,1.37394],"nice":false,"zero":false}}}},
{"data":{"name":"chi"},"mark":{"type":"line","color":"#00e000","strokeWidth":1},
"encoding":{"x":{"field":"i","type":"quantitative","title":null,"axis":null,"scale":{"domain":[-0.2,277.5],"nice":false,"zero":false}},"y":{"field":"v","type":"quantitative","title":null,"axis":null,"scale":{"domain":[1.30654,1.37394],"nice":false,"zero":false}}}},
{"data":{"name":"kij"},"mark":{"type":"line","color":"#0000ff","strokeWidth":1},
"encoding":{"x":{"field":"i","type":"quantitative","title":null,"axis":null,"scale":{"domain":[-0.2,277.5],"nice":false,"zero":false}},"y":{"field":"v","type":"quantitative","title":null,"axis":null,"scale":{"domain":[1.30654,1.37394],"nice":false,"zero":false}}}},
{"data":{"name":"ten"},"mark":{"type":"line","color":"#ff0000","strokeWidth":1},
"encoding":{"x":{"field":"i","type":"quantitative","title":null,"axis":null,"scale":{"domain":[-0.2,277.5],"nice":false,"zero":false}},"y":{"field":"v","type":"quantitative","title":null,"axis":null,"scale":{"domain":[1.30654,1.37394],"nice":false,"zero":false}}}},
{"data":{"name":"bars"},"mark":{"type":"rule","color":"#000000","strokeWidth":1},
"encoding":{"x":{"field":"i","type":"quantitative","title":null,"axis":null,"scale":{"domain":[-0.2,277.5],"nice":false,"zero":false}},"y":{"field":"l","type":"quantitative","title":null,"axis":null,"scale":{"domain":[1.30654,1.37394],"nice":false,"zero":false}},"y2":{"field":"h"}}},
{"data":{"name":"bars"},"mark":{"type":"bar","size":1.7,"stroke":"#000000","strokeWidth":0.6},
"encoding":{"x":{"field":"i","type":"quantitative","title":null,"axis":null,"scale":{"domain":[-0.2,277.5],"nice":false,"zero":false}},"y":{"field":"o","type":"quantitative","title":null,"axis":null,"scale":{"domain":[1.30654,1.37394],"nice":false,"zero":false}},"y2":{"field":"c"},
"color":{"condition":{"test":"datum.c >= datum.o","value":"#fffff0"},"value":"#000000"}}},
{"data":{"name":"lv"},"transform":[{"filter":"datum.k == 'l'"}],"mark":{"type":"text","align":"right","baseline":"alphabetic","dy":-4,"fontSize":11,"font":"Liberation Sans","color":"#ff5522"},
"encoding":{"x":{"datum":277.2,"type":"quantitative","axis":null,"scale":{"domain":[-0.2,277.5],"nice":false,"zero":false}},"y":{"field":"p","type":"quantitative","title":null,"axis":null,"scale":{"domain":[1.30654,1.37394],"nice":false,"zero":false}},"text":{"field":"t"}}},
{"data":{"name":"lv"},"mark":{"type":"tick","orient":"horizontal","size":22,"thickness":9},
"encoding":{"x":{"datum":283.4,"type":"quantitative","axis":null,"scale":{"domain":[-0.2,277.5],"nice":false,"zero":false}},"y":{"field":"p","type":"quantitative","title":null,"axis":null,"scale":{"domain":[1.30654,1.37394],"nice":false,"zero":false}},
"color":{"condition":{"test":"datum.k == 'b'","value":"#000000"},"value":"#ff0000"}}},
{"data":{"name":"lv"},"mark":{"type":"text","align":"center","baseline":"middle","fontSize":5.4,"font":"Liberation Sans","color":"#ffffff"},
"encoding":{"x":{"datum":283.4,"type":"quantitative","axis":null,"scale":{"domain":[-0.2,277.5],"nice":false,"zero":false}},"y":{"field":"p","type":"quantitative","title":null,"axis":null,"scale":{"domain":[1.30654,1.37394],"nice":false,"zero":false}},"text":{"field":"t"}}},
{"data":{"values":[{}]},"mark":{"type":"text","align":"left","baseline":"middle","fontSize":5.6,"font":"Liberation Sans","color":"#000000"},
"encoding":{"x":{"datum":0.4,"type":"quantitative","axis":null,"scale":{"domain":[-0.2,277.5],"nice":false,"zero":false}},"y":{"datum":1.3729,"type":"quantitative","axis":null,"scale":{"domain":[1.30654,1.37394],"nice":false,"zero":false}},"text":{"value":"▼ EURUSD,H4  1.3173 1.3185 1.3172 1.3184"}}}
]
},
{
"width":654,"height":64,
"resolve":{"scale":{"x":"independent"},"axis":{"x":"independent","y":"independent"}},
"layer":[
{"data":{"name":"bars"},"mark":{"type":"bar","size":1,"color":"#c4c4c4"},
"encoding":{"x":{"field":"i","type":"quantitative","title":null,"scale":{"domain":[-0.2,277.5],"nice":false,"zero":false},"axis":{"orient":"bottom","values":[0,16,32,48,64,80,96,112,128,144,160,176,192,208],"labelExpr":"['8 Jul 2014','11 Jul 12:00','16 Jul 04:00','18 Jul 20:00','23 Jul 12:00','28 Jul 04:00','30 Jul 20:00','4 Aug 12:00','7 Aug 04:00','11 Aug 20:00','14 Aug 12:00','19 Aug 04:00','21 Aug 20:00','26 Aug 12:00'][round(datum.value / 16)]","labelAlign":"left","labelFontSize":5.1,"labelFlush":false,"labelOverlap":false,"labelBound":false,"labelPadding":1,"grid":false,"domain":false,"tickSize":3}},
"y":{"field":"m","type":"quantitative","title":null,"scale":{"domain":[-0.00363,0.00073],"nice":false,"zero":false},"axis":{"orient":"right","values":[0.00073,0,-0.00363],"labelExpr":"datum.value > 0.0005 ? '0.00073' : (datum.value < -0.003 ? '-0.00363' : '0.00')","labelOverlap":false,"labelBound":false,"grid":true,"tickSize":2,"labelPadding":2}}}},
{"data":{"name":"sig"},"mark":{"type":"line","color":"#ff2a2a","strokeDash":[1.5,1.5],"strokeWidth":1.3,"interpolate":"monotone"},
"encoding":{"x":{"field":"i","type":"quantitative","title":null,"scale":{"domain":[-0.2,277.5],"nice":false,"zero":false},"axis":{"orient":"top","values":[0,8,16,24,32,40,48,56,64,72,80,88,96,104,112,120,128,136,144,152,160,168,176,184,192,200,208,216,224,232,240,248,256,264,272],"labels":false,"ticks":false,"domain":false,"grid":true,"minExtent":0,"maxExtent":0}},"y":{"field":"v","type":"quantitative","title":null,"axis":null,"scale":{"domain":[-0.00363,0.00073],"nice":false,"zero":false}}}},
{"data":{"values":[{}]},"mark":{"type":"text","align":"left","baseline":"middle","fontSize":5.4,"font":"Liberation Sans","color":"#000000"},
"encoding":{"x":{"datum":0.6,"type":"quantitative","scale":{"domain":[-0.2,277.5],"nice":false,"zero":false},"axis":null},"y":{"datum":0.00028,"type":"quantitative","axis":null,"scale":{"domain":[-0.00363,0.00073],"nice":false,"zero":false}},"text":{"value":"MACD(12,26,9) -0.00155 -0.00202"}}}
]
}
]
}
